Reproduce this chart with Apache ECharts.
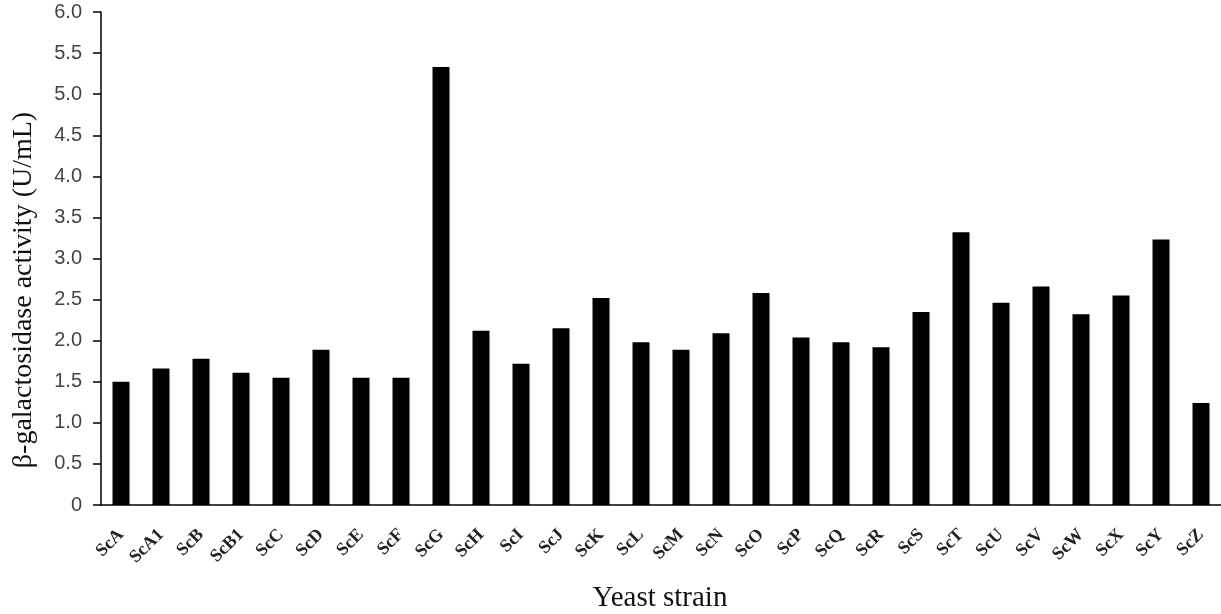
<!DOCTYPE html>
<html>
<head>
<meta charset="utf-8">
<script src="https://cdn.jsdelivr.net/npm/echarts@6/dist/echarts.min.js"></script>
<style>
html,body{margin:0;padding:0;background:#fff;overflow:hidden;}
#chart{width:1221px;height:614px;}
</style>
</head>
<body>
<div id="chart"></div>
<script>
const categories = ['ScA','ScA1','ScB','ScB1','ScC','ScD','ScE','ScF','ScG','ScH','ScI','ScJ','ScK','ScL','ScM','ScN','ScO','ScP','ScQ','ScR','ScS','ScT','ScU','ScV','ScW','ScX','ScY','ScZ'];
const activity = [1.50,1.66,1.78,1.61,1.55,1.89,1.55,1.55,5.33,2.12,1.72,2.15,2.52,1.98,1.89,2.09,2.58,2.04,1.98,1.92,2.35,3.32,2.46,2.66,2.32,2.55,3.23,1.24];
const yTicks = [0,0.5,1.0,1.5,2.0,2.5,3.0,3.5,4.0,4.5,5.0,5.5,6.0];
const yAxisTitle = 'β-galactosidase activity (U/mL)';
const xAxisTitle = 'Yeast strain';

const chart = echarts.init(document.getElementById('chart'));
chart.setOption({
  animation: false,
  backgroundColor: '#fff',
  grid: {left: 101, right: 0, top: 12, bottom: 109, containLabel: false},
  xAxis: {
    type: 'category',
    data: categories,
    axisLine: {lineStyle: {color: '#000', width: 1.5}},
    axisTick: {show: false},
    axisLabel: {
      rotate: 45,
      interval: 0,
      margin: 27,
      fontFamily: 'Liberation Serif',
      fontWeight: 'bold',
      fontSize: 18,
      color: '#222'
    }
  },
  yAxis: {
    type: 'value',
    min: yTicks[0],
    max: yTicks[yTicks.length - 1],
    interval: 0.5,
    axisLine: {show: true, lineStyle: {color: '#000', width: 1.5}},
    axisTick: {show: true, length: 8, lineStyle: {color: '#000', width: 1.5}},
    splitLine: {show: false},
    axisLabel: {
      margin: 19,
      fontFamily: 'Liberation Sans',
      fontSize: 20,
      color: '#444',
      formatter: v => v === 0 ? '0' : v.toFixed(1)
    }
  },
  graphic: [{
    type: 'text',
    x: 24,
    y: 290,
    rotation: Math.PI / 2,
    style: {
      text: yAxisTitle,
      fontFamily: 'Liberation Serif',
      fontSize: 28,
      fill: '#111',
      align: 'center',
      verticalAlign: 'middle'
    }
  }, {
    type: 'text',
    x: 660,
    y: 598,
    style: {
      text: xAxisTitle,
      fontFamily: 'Liberation Serif',
      fontSize: 29,
      fill: '#111',
      align: 'center',
      verticalAlign: 'middle'
    }
  }],
  series: [{
    type: 'bar',
    data: activity,
    barWidth: 17,
    itemStyle: {color: '#000'}
  }]
});
</script>
</body>
</html>
